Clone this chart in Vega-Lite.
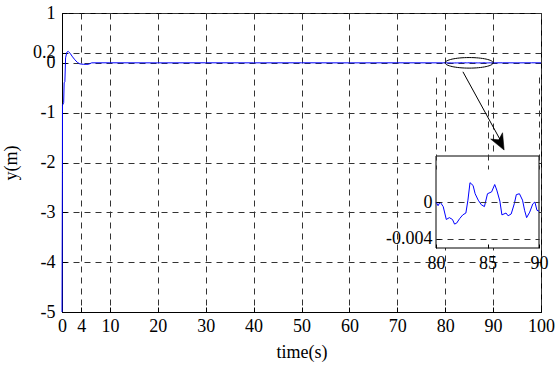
{
  "$schema": "https://vega.github.io/schema/vega-lite/v6.json",
  "width": 479,
  "height": 299,
  "autosize": "none",
  "padding": {"left": 62, "top": 13, "right": 15, "bottom": 55},
  "background": "white",
  "config": {
    "view": {"stroke": "black", "strokeWidth": 1},
    "axis": {
      "labelFont": "Liberation Serif",
      "labelFontSize": 18,
      "labelColor": "black",
      "titleFont": "Liberation Serif",
      "titleFontSize": 18,
      "titleFontWeight": "normal",
      "titleColor": "black",
      "domainColor": "black",
      "tickColor": "black",
      "gridColor": "#333333",
      "gridDash": [6, 5],
      "gridOpacity": 1,
      "labelOverlap": false,
      "labelFlush": false,
      "labelExpr": "toString(datum.value)"
    }
  },
  "datasets": {
    "signal": [
      {"t": 0, "y": -5},
      {"t": 0.08, "y": -2.2},
      {"t": 0.1, "y": -0.85},
      {"t": 0.35, "y": -0.8},
      {"t": 0.45, "y": -0.4},
      {"t": 0.6, "y": -0.38},
      {"t": 0.75, "y": 0.1},
      {"t": 1.0, "y": 0.21},
      {"t": 1.3, "y": 0.23},
      {"t": 1.7, "y": 0.19},
      {"t": 2.2, "y": 0.12},
      {"t": 2.7, "y": 0.06},
      {"t": 3.2, "y": 0.01},
      {"t": 3.7, "y": -0.02},
      {"t": 4.5, "y": -0.03},
      {"t": 5.5, "y": -0.03},
      {"t": 6.2, "y": 0},
      {"t": 10, "y": 0.0005},
      {"t": 20, "y": -0.0008},
      {"t": 30, "y": 0.0006},
      {"t": 40, "y": -0.0005},
      {"t": 50, "y": 0.0007},
      {"t": 60, "y": -0.0006},
      {"t": 70, "y": 0.0004},
      {"t": 79.5, "y": -0.0003},
      {"t": 80.0, "y": 0.0},
      {"t": 80.2, "y": -0.0004},
      {"t": 80.4, "y": 0.0},
      {"t": 80.7, "y": -0.0005},
      {"t": 81.0, "y": -0.0019},
      {"t": 81.3, "y": -0.0017},
      {"t": 81.6, "y": -0.0019},
      {"t": 81.8, "y": -0.0024},
      {"t": 82.0, "y": -0.0023},
      {"t": 82.3, "y": -0.0018},
      {"t": 82.6, "y": -0.0014},
      {"t": 82.9, "y": -0.0012},
      {"t": 83.1, "y": 0.0002},
      {"t": 83.3, "y": 0.0021},
      {"t": 83.6, "y": 0.0018},
      {"t": 83.8, "y": 0.0009},
      {"t": 84.1, "y": 0.0002},
      {"t": 84.4, "y": -0.0003},
      {"t": 84.7, "y": -0.0005},
      {"t": 85.0, "y": 0.0009},
      {"t": 85.4, "y": 0.0011},
      {"t": 85.7, "y": 0.0019},
      {"t": 85.9, "y": 0.0013},
      {"t": 86.2, "y": 0.0001},
      {"t": 86.4, "y": -0.0014},
      {"t": 86.8, "y": -0.0012},
      {"t": 87.0, "y": -0.0015},
      {"t": 87.3, "y": -0.0013},
      {"t": 87.6, "y": -0.0002},
      {"t": 87.8, "y": 0.0008},
      {"t": 88.1, "y": 0.0009},
      {"t": 88.4, "y": 0.0002},
      {"t": 88.6, "y": -0.0009},
      {"t": 88.8, "y": -0.0017},
      {"t": 89.1, "y": -0.0011},
      {"t": 89.4, "y": -0.0002},
      {"t": 89.6, "y": 0.0},
      {"t": 89.8, "y": -0.0009},
      {"t": 90.0, "y": -0.001},
      {"t": 92, "y": 0.0006},
      {"t": 95, "y": -0.0008},
      {"t": 98, "y": 0.0005},
      {"t": 100, "y": 0}
    ],
    "arrow": [
      {"t": 83.7, "y": -0.18},
      {"t": 91.8, "y": -1.6}
    ],
    "one": [{}]
  },
  "layer": [
    {
      "layer": [
        {
          "data": {"name": "signal"},
          "mark": {"type": "line", "color": "#0000ff", "strokeWidth": 1, "clip": false},
          "encoding": {
            "x": {"field": "t", "type": "quantitative",
              "scale": {"domain": [0, 100], "nice": false, "zero": false},
              "axis": {"orient": "bottom", "values": [0, 4, 10, 20, 30, 40, 50, 60, 70, 80, 90, 100],
                "grid": true, "tickSize": -5, "labelPadding": 10, "title": "time(s)", "titlePadding": 8}},
            "y": {"field": "y", "type": "quantitative",
              "scale": {"domain": [-5, 1], "nice": false, "zero": false},
              "axis": {"orient": "left", "values": [-5, -4, -3, -2, -1, 0, 0.2, 1],
                "grid": true, "tickSize": -5, "labelPadding": 12, "title": "y(m)", "titlePadding": 12}}
          }
        },
        {
          "data": {"name": "one"},
          "mark": {"type": "point", "shape": "M-1,0A1,0.22,0,1,1,1,0A1,0.22,0,1,1,-1,0Z", "size": 2304, "filled": false, "stroke": "black", "strokeWidth": 1, "opacity": 1},
          "encoding": {
            "x": {"datum": 85, "type": "quantitative"},
            "y": {"datum": 0, "type": "quantitative"}
          }
        },
        {
          "data": {"name": "arrow"},
          "mark": {"type": "line", "color": "black", "strokeWidth": 1},
          "encoding": {
            "x": {"field": "t", "type": "quantitative"},
            "y": {"field": "y", "type": "quantitative"}
          }
        },
        {
          "data": {"name": "one"},
          "mark": {"type": "point", "shape": "M0,0L-0.42,-1L0,-0.72L0.42,-1Z", "size": 1024, "filled": true, "fill": "black", "stroke": "black", "strokeWidth": 0.5, "opacity": 1, "angle": 332},
          "encoding": {
            "x": {"datum": 92.3, "type": "quantitative"},
            "y": {"datum": -1.75, "type": "quantitative"}
          }
        }
      ]
    },
    {
      "layer": [
        {
          "data": {"name": "one"},
          "mark": {"type": "rect", "fill": "white", "stroke": "black", "strokeWidth": 1},
          "encoding": {
            "x": {"datum": 80, "type": "quantitative",
              "scale": {"domain": [80, 90], "range": [374, 477], "nice": false, "zero": false},
              "axis": {"orient": "bottom", "offset": -64, "values": [80, 85, 90], "grid": true, "domain": false,
                "tickSize": -4, "labelPadding": 10, "title": null, "zindex": 1}},
            "x2": {"datum": 90},
            "y": {"datum": -0.005, "type": "quantitative",
              "scale": {"domain": [-0.005, 0.005], "range": [235, 143], "nice": false, "zero": false},
              "axis": {"orient": "left", "offset": -374, "values": [-0.004, 0], "grid": true, "domain": false,
                "tickSize": -4, "labelPadding": 8, "title": null, "zindex": 1}},
            "y2": {"datum": 0.005}
          }
        },
        {
          "data": {"name": "signal"},
          "transform": [{"filter": "datum.t >= 80 && datum.t <= 90"}],
          "mark": {"type": "line", "color": "#0000ff", "strokeWidth": 1},
          "encoding": {
            "x": {"field": "t", "type": "quantitative"},
            "y": {"field": "y", "type": "quantitative"}
          }
        }
      ]
    }
  ],
  "resolve": {"scale": {"x": "independent", "y": "independent"}, "axis": {"x": "independent", "y": "independent"}}
}
